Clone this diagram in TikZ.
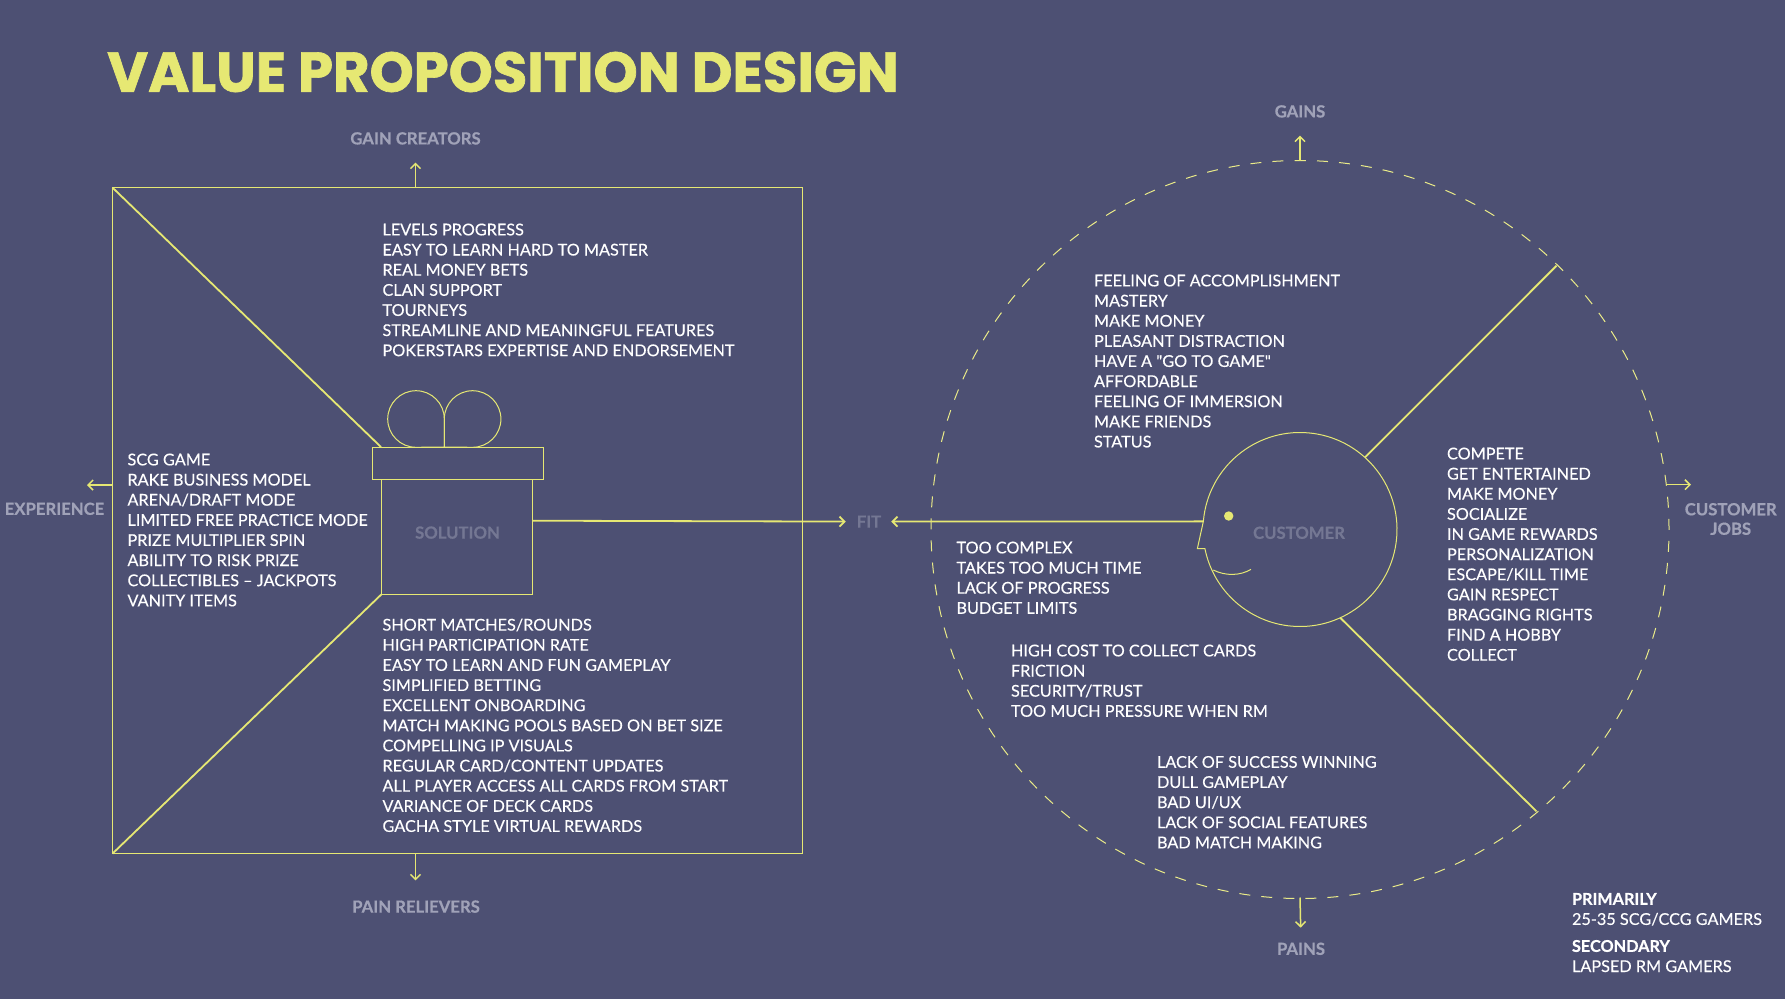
\documentclass[tikz,border=0pt]{standalone}
\usepackage{fontspec}
\setmainfont{Lato}[Ligatures=TeXOff, FakeBold=0.25, BoldFeatures={FakeBold=0.6}]
\newfontfamily\titlefont{Poppins}[BoldFeatures={FakeBold=1.2}]
\usetikzlibrary{arrows.meta,calc}

\definecolor{vpbg}{HTML}{4D5073}
\definecolor{vpyellow}{HTML}{E6E873}
\definecolor{vpgray}{HTML}{A0A2B8}
\definecolor{vpdim}{HTML}{747793}

\tikzset{
  thinline/.style={draw=vpyellow, line width=1pt},
  spoke/.style={draw=vpyellow, line width=1.8pt},
  outarrow/.style={draw=vpyellow, line width=1.5pt, ->},
  listtext/.style={anchor=north west, inner sep=0pt, outer sep=0pt, align=left, text=white,
    font=\fontsize{16.25}{20.13}\selectfont},
  labeltext/.style={inner sep=0pt, outer sep=0pt, align=center, text=vpgray,
    font=\fontsize{16.7}{19.5}\selectfont\bfseries},
  dimtext/.style={labeltext, text=vpdim},
  giftpart/.style={thinline, inner sep=0pt, outer sep=0pt},
}

\begin{document}
\begin{tikzpicture}[x=1pt, y=1pt, >={Straight Barb[length=5pt,width=10pt]}]

% ================================================================
% Background and title
% ================================================================
\fill[vpbg] (0,0) rectangle (1785,-999);
\node[anchor=west, inner sep=0pt, text=vpyellow, font=\fontsize{56.1}{57}\titlefont\bfseries]
  (title) at (107,-72) {VALUE PROPOSITION DESIGN};

% ================================================================
% Value map: square, gift, diagonals
% ================================================================
\node[giftpart, minimum width=690pt, minimum height=666pt] (square) at (457.5,-520.6) {};
\node[giftpart, minimum width=171pt, minimum height=32pt] (lid) at (457.5,-463) {};
\node[giftpart, minimum width=151pt, minimum height=115pt] (giftbody) at (457.3,-536.5) {};
\node[dimtext] (solution) at (457.5,-532.6) {SOLUTION};

% bow loops
\coordinate (bowroot) at ([xshift=-13.2pt]lid.north);
\draw[thinline] (bowroot) -- ++(0,28) arc (0:270:28.3) -- (bowroot);
\draw[thinline] (bowroot) -- ++(0,28) arc (180:-90:28.3) -- (bowroot);

\draw[spoke] (square.north west) -- ([xshift=9pt]lid.north west);
\draw[spoke] (square.south west) -- (giftbody.south west);

% ================================================================
% Value map: outer labels and arrows
% ================================================================
\node[labeltext] (gaincreators) at (415.5,-138.4) {GAIN CREATORS};
\node[labeltext] (painrelievers) at (416,-906.6) {PAIN RELIEVERS};
\node[labeltext] (experience) at (54.5,-508.8) {EXPERIENCE};
\coordinate (exptip) at (87,-485);

\draw[outarrow, shorten >=18pt] (square.north -| gaincreators) -- (gaincreators.south);
\draw[outarrow, shorten >=20pt] (square.south -| gaincreators) -- (gaincreators.south |- painrelievers.north);
\draw[outarrow] (square.west |- exptip) -- (exptip);

% ================================================================
% Customer profile: dashed ring, head, spokes
% ================================================================
\coordinate (hub) at (1300,-529.5);
\draw[draw=vpyellow!85!white, line width=1pt, dash pattern=on 11pt off 11.08pt, dash phase=5.5pt]
  ($(hub)+(90:369)$) arc (90:450:369);

\coordinate (nosetop) at ($(hub)+(175.2:97)$);
\coordinate (nosebase) at ($(hub)+(191.3:97)$);
\draw[thinline] (nosetop) arc (175.2:-168.7:97) -- ++(-7.5,0) -- cycle;
\fill[vpyellow] (1228.7,-516) circle (4.7);
\draw[thinline] (1213.3,-570) .. controls (1225,-576) and (1240,-576) .. (1251,-569.3);
\node[dimtext] (customer) at (1299,-532.8) {CUSTOMER};

\draw[spoke] ($(hub)+(48:97)$) -- ($(hub)+(45.8:368)$);
\draw[spoke] ($(hub)+(-65.5:97)$) -- ($(hub)+(-50:368)$);

% ================================================================
% Customer profile: outer labels and arrows
% ================================================================
\node[labeltext] (gains) at (1300,-111.4) {GAINS};
\node[labeltext] (pains) at (1301,-948.8) {PAINS};
\node[labeltext] (customerjobs) at (1730.7,-519) {CUSTOMER\\JOBS};
\coordinate (jobstip) at (1691,-484.7);
\coordinate (jobsroot) at (1665.5,-484.7);

\draw[outarrow, shorten >=18pt] ($(hub)+(90:369)$) -- (gains.south);
\draw[outarrow, shorten >=15pt] ($(hub)+(-90:368)$) -- (pains.north);
\draw[outarrow] (jobsroot) -- (jobstip);

% ================================================================
% Fit connectors
% ================================================================
\node[dimtext] (fit) at (869,-521.6) {FIT};
\draw[spoke, ->, shorten >=11pt] ([yshift=15.8pt]giftbody.east) -- (fit.west);
\draw[spoke, ->, shorten >=10pt] (nosetop) -- (fit.east);

% ================================================================
% Text lists
% ================================================================
\node[listtext] (creatorlist) at (382.5,-223.6) {LEVELS PROGRESS\\
  EASY TO LEARN HARD TO MASTER\\
  REAL MONEY BETS\\
  CLAN SUPPORT\\
  TOURNEYS\\
  STREAMLINE AND MEANINGFUL FEATURES\\
  POKERSTARS EXPERTISE AND ENDORSEMENT};

\node[listtext] (experiencelist) at (127.5,-453.6) {SCG GAME\\
  RAKE BUSINESS MODEL\\
  ARENA/DRAFT MODE\\
  LIMITED FREE PRACTICE MODE\\
  PRIZE MULTIPLIER SPIN\\
  ABILITY TO RISK PRIZE\\
  COLLECTIBLES – JACKPOTS\\
  VANITY ITEMS};

\node[listtext] (relieverlist) at (382.5,-618.6) {SHORT MATCHES/ROUNDS\\
  HIGH PARTICIPATION RATE\\
  EASY TO LEARN AND FUN GAMEPLAY\\
  SIMPLIFIED BETTING\\
  EXCELLENT ONBOARDING\\
  MATCH MAKING POOLS BASED ON BET SIZE\\
  COMPELLING IP VISUALS\\
  REGULAR CARD/CONTENT UPDATES\\
  ALL PLAYER ACCESS ALL CARDS FROM START\\
  VARIANCE OF DECK CARDS\\
  GACHA STYLE VIRTUAL REWARDS};

\node[listtext] (gainlist) at (1094,-274.6) {FEELING OF ACCOMPLISHMENT\\
  MASTERY\\
  MAKE MONEY\\
  PLEASANT DISTRACTION\\
  HAVE A "GO TO GAME"\\
  AFFORDABLE\\
  FEELING OF IMMERSION\\
  MAKE FRIENDS\\
  STATUS};

\node[listtext] (jobslist) at (1447,-447.6) {COMPETE\\
  GET ENTERTAINED\\
  MAKE MONEY\\
  SOCIALIZE\\
  IN GAME REWARDS\\
  PERSONALIZATION\\
  ESCAPE/KILL TIME\\
  GAIN RESPECT\\
  BRAGGING RIGHTS\\
  FIND A HOBBY\\
  COLLECT};

\node[listtext] (painlist1) at (956.5,-541.6) {TOO COMPLEX\\
  TAKES TOO MUCH TIME\\
  LACK OF PROGRESS\\
  BUDGET LIMITS};

\node[listtext] (painlist2) at (1011,-644.6) {HIGH COST TO COLLECT CARDS\\
  FRICTION\\
  SECURITY/TRUST\\
  TOO MUCH PRESSURE WHEN RM};

\node[listtext] (painlist3) at (1157,-756) {LACK OF SUCCESS WINNING\\
  DULL GAMEPLAY\\
  BAD UI/UX\\
  LACK OF SOCIAL FEATURES\\
  BAD MATCH MAKING};

\node[listtext] (primarylist) at (1572,-893) {\textbf{PRIMARILY}\\
  25-35 SCG/CCG GAMERS};
\node[listtext] (secondarylist) at (1572,-940) {\textbf{SECONDARY}\\
  LAPSED RM GAMERS};

\end{tikzpicture}
\end{document}
